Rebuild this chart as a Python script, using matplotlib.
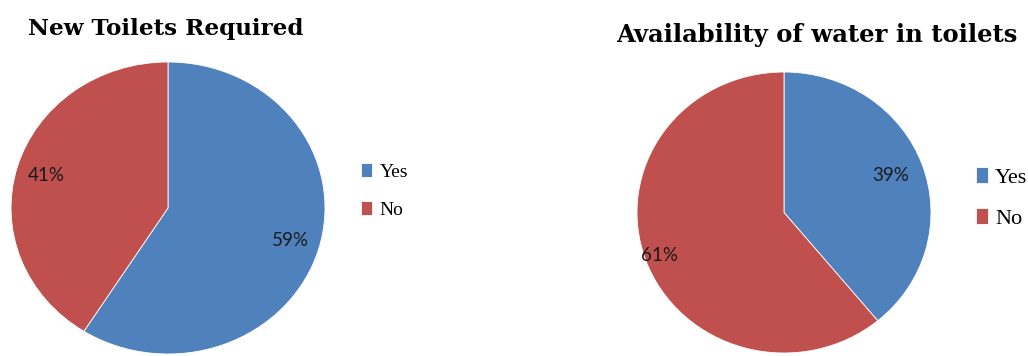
import matplotlib
matplotlib.use("Agg")
import matplotlib.pyplot as plt
import numpy as np

# Data
categories = ["Yes", "No"]
toilets_required = [59, 41]
water_available = [39, 61]
titles = ["New Toilets Required", "Availability of water in toilets"]
colors = ["#4F81BD", "#C0504D"]

W, H = 1028, 356
fig = plt.figure(figsize=(W / 100, H / 100), dpi=100)


def px_axes(x0, y0, x1, y1):
    return fig.add_axes([x0 / W, (H - y1) / H, (x1 - x0) / W, (y1 - y0) / H])


def draw_pie(ax, values, label_r, fs):
    wedges, texts, autotexts = ax.pie(
        values, colors=colors, startangle=90, counterclock=False,
        autopct=lambda p: f"{p:.0f}%", pctdistance=1.0,
        wedgeprops=dict(linewidth=0.6, edgecolor="white"),
        textprops=dict(fontsize=fs, color="#1a1a1a", family="Lato"))
    for t, r in zip(autotexts, label_r):
        x, y = t.get_position()
        t.set_position((x * r, y * r))
    ax.set_aspect("auto")
    ax.set_xlim(-1, 1)
    ax.set_ylim(-1, 1)
    ax.axis("off")
    return wedges


# Left pie
ax1 = px_axes(11, 62, 325, 354)
w1 = draw_pie(ax1, toilets_required, [0.81, 0.81], 13.5)
fig.text(166 / W, (H - 35) / H, titles[0], ha="center", va="baseline",
         fontsize=16.6, fontweight="bold", family="DejaVu Serif")
fig.legend(w1, categories, loc="center left",
           bbox_to_anchor=(361 / W, (H - 191) / H), frameon=False,
           prop=dict(family="Liberation Serif", size=14),
           handlelength=0.55, handleheight=0.75, handletextpad=0.4,
           labelspacing=1.05, borderpad=0, borderaxespad=0)

# Right pie
ax2 = px_axes(637, 72, 931, 353)
w2 = draw_pie(ax2, water_available, [0.77, 0.9], 13.5)
fig.text(817 / W, (H - 42) / H, titles[1], ha="center", va="baseline",
         fontsize=17.5, fontweight="bold", family="DejaVu Serif")
fig.legend(w2, categories, loc="center left",
           bbox_to_anchor=(976 / W, (H - 198) / H), frameon=False,
           prop=dict(family="Liberation Serif", size=16),
           handlelength=0.55, handleheight=0.75, handletextpad=0.3,
           labelspacing=0.9, borderpad=0, borderaxespad=0)

fig.savefig("out.png", dpi=100)
